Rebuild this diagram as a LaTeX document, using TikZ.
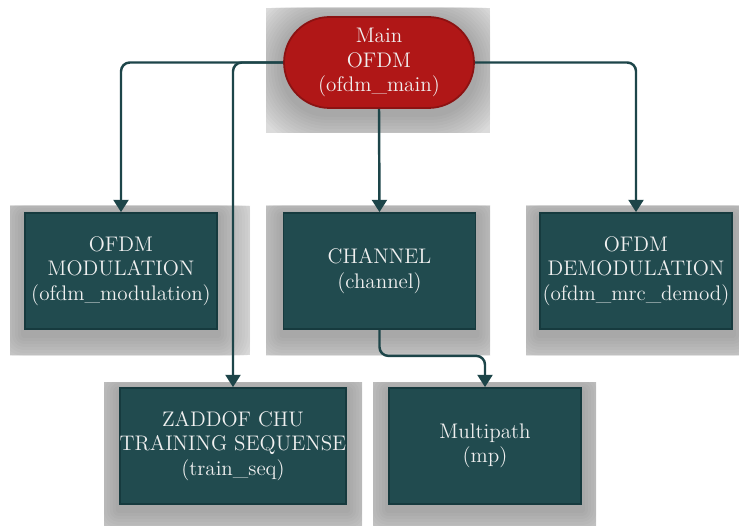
\documentclass[tikz,border=0pt]{standalone}
\usetikzlibrary{positioning}
\usetikzlibrary{shapes.misc, arrows.meta, backgrounds, calc}

\definecolor{modfill}{HTML}{214B4F}
\definecolor{modedge}{HTML}{163A3E}
\definecolor{mainfill}{HTML}{B01717}
\definecolor{mainedge}{HTML}{8C1212}
\definecolor{wirecol}{HTML}{1D4549}

% grey panel with a soft shadow round node #1; #2 panel corners, #3 corner radius
\newcommand{\haloframe}[3]{%
  \begin{scope}
    \clip #2;
    \fill[gray!28] #2;
    \foreach \d in {3,6,...,36}
      \fill[black, fill opacity=0.021, rounded corners=#3+\d*0.567pt]
        ($(#1.west |- #1.south)+(-\d,\d+5)$) rectangle ($(#1.east |- #1.north)+(\d,-\d+5)$);
  \end{scope}}

\tikzset{
  module/.style={rectangle, draw=modedge, fill=modfill, line width=1pt, text=white!94!black,
    align=center, font=\large, minimum width=3.84cm, minimum height=2.32cm, inner sep=0pt},
  mainmod/.style={rounded rectangle, draw=mainedge, fill=mainfill, line width=1pt, text=white!94!black,
    align=center, font=\large, minimum width=3.8cm, minimum height=1.82cm, inner sep=0pt},
  wire/.style={draw=wirecol, line width=1.4pt, rounded corners=5pt, -{Triangle[length=7pt,width=8.5pt]}}
}

\begin{document}
\begin{tikzpicture}[x=0.02cm,y=-0.02cm]
\useasboundingbox (0,0) rectangle (739,526);

% modules
\node[mainmod] (main) at (379,62.5) {Main\\OFDM\\(ofdm\_main)};
\node[module] (mod) at (121,271) {OFDM\\MODULATION\\(ofdm\_modulation)};
\node[module] (chan) at (379.5,271) {CHANNEL\\(channel)};
\node[module] (demod) at (636,271) {OFDM\\DEMODULATION\\(ofdm\_mrc\_demod)};
\node[module,minimum width=4.48cm] (zc) at (233,446) {ZADDOF CHU\\TRAINING SEQUENSE\\(train\_seq)};
\node[module] (mp) at (485,446) {Multipath\\(mp)};

% shadow panels
\begin{pgfonlayer}{background}
\fill[white] (0,0) rectangle (739,526);
\haloframe{main}{(266,8) rectangle (490,133)}{25pt}
\haloframe{mod}{(10,206) rectangle (250,355)}{0pt}
\haloframe{chan}{(266,206) rectangle (490,355)}{0pt}
\haloframe{demod}{(526,206) rectangle (739,355)}{0pt}
\haloframe{zc}{(104,382) rectangle (362,526)}{0pt}
\haloframe{mp}{(373,382) rectangle (596,526)}{0pt}
\end{pgfonlayer}

% calls
\draw[wire] (main.west) -| (mod.north);
\draw[wire] (main.west) -| (zc.north);
\draw[wire] (main.south) -- (chan.north);
\draw[wire] (main.east) -| (demod.north);
\draw[wire] (chan.south) -- ++(0,26) -| (mp.north);

\end{tikzpicture}
\end{document}
